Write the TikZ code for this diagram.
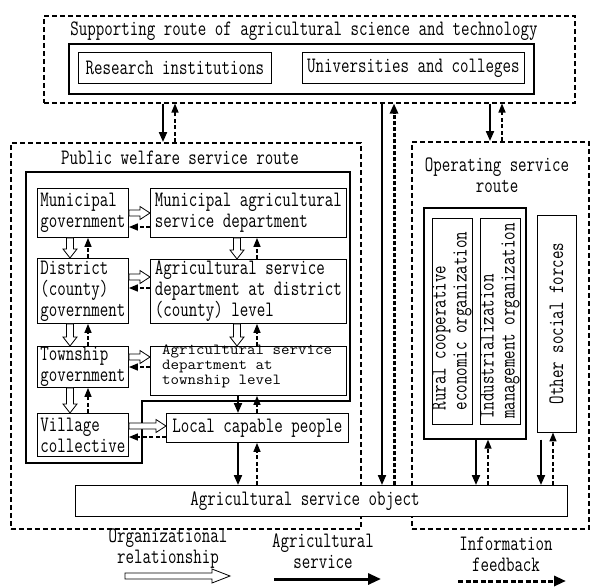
\documentclass[tikz,border=0pt]{standalone}
\usepackage{fontspec}
\setmainfont{Latin Modern Mono}[FakeStretch=0.75]
\usetikzlibrary{arrows.meta,calc}
\tikzset{
  every node/.style={font=\fontsize{22}{21}\selectfont},
  box/.style={draw, line width=0.9pt, inner sep=0pt, anchor=north west, align=left},
  dbox/.style={draw, line width=1.5pt, dash pattern=on 5pt off 3pt, anchor=north west, inner sep=0pt},
  grp/.style={draw, line width=1.8pt, anchor=north west, inner sep=0pt},
  svc/.style={line width=2pt, -{Triangle[length=10pt,width=8pt]}},
  fb/.style={line width=1.4pt, dash pattern=on 4pt off 2.5pt, -{Triangle[length=9pt,width=7pt]}},
  fbthick/.style={line width=3pt, dash pattern=on 4pt off 2pt, -{Triangle[length=10pt,width=8pt]}},
  hollow/.style={draw, fill=white, line width=0.8pt},
  lbl/.style={inner sep=0pt, align=center},
}
\newcommand\hollowR[2]{%
  \draw[hollow] let \p1=(#1), \p2=(#2) in
    (\x1,\y1+3pt) -- (\x2-10pt,\y1+3pt) -- (\x2-10pt,\y1+6.5pt) -- (\x2,\y1)
    -- (\x2-10pt,\y1-6.5pt) -- (\x2-10pt,\y1-3pt) -- (\x1,\y1-3pt) -- cycle;}
\newcommand\hollowD[2]{%
  \draw[hollow] let \p1=(#1), \p2=(#2) in
    (\x1-3.5pt,\y1) -- (\x1-3.5pt,\y2+9pt) -- (\x1-7pt,\y2+9pt) -- (\x1,\y2)
    -- (\x1+7pt,\y2+9pt) -- (\x1+3.5pt,\y2+9pt) -- (\x1+3.5pt,\y1) -- cycle;}
\begin{document}
\begin{tikzpicture}[x=1pt,y=-1pt]
\useasboundingbox (0,0) rectangle (592,587);
% ---------- supporting route ----------
\node[dbox, minimum width=531pt, minimum height=87pt] (sup) at (43,15) {};
\node[lbl] (supt) at (304,31) {Supporting route of agricultural science and technology};
\node[grp, minimum width=465pt, minimum height=50pt] (supin) at (68,43) {};
\node[box, align=center, minimum width=193pt, minimum height=31pt] (ri) at (78,52) {Research institutions};
\node[box, align=center, minimum width=222pt, minimum height=31pt] (uc) at (302,52) {Universities and colleges};
% ---------- public welfare route ----------
\node[dbox, minimum width=350pt, minimum height=386pt] (pub) at (10,142) {};
\node[lbl] (pubt) at (180,158) {Public welfare service route};
\draw[line width=1.8pt] (26,172) -- (350,172) -- (350,401) -- (142,401) -- (142,463) -- (26,463) -- cycle;
\node[box, minimum width=91pt, minimum height=49pt] (mg) at (37,188) {Municipal\\government};
\node[box, minimum width=196pt, minimum height=49pt] (md) at (150,188) {Municipal agricultural\\service department};
\node[box, minimum width=91pt, minimum height=65pt] (dg) at (37,258) {District\\(county)\\government};
\node[box, minimum width=196pt, minimum height=64pt] (dd) at (150,259) {Agricultural service\\department at district\\(county) level};
\node[box, minimum width=91pt, minimum height=41pt] (tg) at (37,346) {Township\\government};
\node[box, minimum width=196pt, minimum height=49pt] (td) at (150,346) {};
\node[lbl, align=left, anchor=north west, yscale=0.7, transform shape] (tdt) at (162,345) {Agricultural service\\department at\\township level};
\node[box, minimum width=91pt, minimum height=43pt] (vg) at (37,413) {Village\\collective};
\node[box, align=center, minimum width=182pt, minimum height=29pt] (lc) at (166,413) {Local capable people};
% ---------- operating route ----------
\node[dbox, minimum width=177pt, minimum height=387pt] (op) at (411,141) {};
\node[lbl] (opt) at (497,175) {Operating service\\route};
\node[draw, line width=1.6pt, anchor=north west, inner sep=0pt, minimum width=102pt, minimum height=231pt] (opin) at (423,207) {};
\node[box, anchor=center, rotate=90, minimum width=206pt, minimum height=40pt] (rc) at (452,321) {Rural cooperative\\economic organization};
\node[box, anchor=center, rotate=90, minimum width=206pt, minimum height=40pt] (im) at (500,321) {Industrialization\\management organization};
\node[box, anchor=center, rotate=90, align=center, minimum width=217pt, minimum height=39pt] (os) at (556.5,323.5) {Other social forces};
% ---------- service object ----------
\node[box, fill=white, minimum width=492pt, minimum height=31pt] (obj) at (75,485) {};
\node[lbl] (objt) at (305,501) {Agricultural service object};
% ---------- connectors: top ----------
\draw[svc] (sup.south -| 163,0) -- (pub.north -| 163,0);
\draw[fb] (pub.north -| 175,0) -- (sup.south -| 175,0);
\draw[svc] (sup.south -| 490,0) -- (op.north -| 490,0);
\draw[fb] (op.north -| 502,0) -- (sup.south -| 502,0);
\draw[svc] (sup.south -| 382,0) -- (obj.north -| 382,0);
\draw[fbthick] (obj.north -| 394,0) -- (sup.south -| 394,0);
% ---------- public welfare horizontal ----------
\hollowR{mg.east |- 0,213}{md.west |- 0,213}
\draw[fb] (md.west |- 0,227) -- (mg.east |- 0,227);
\hollowR{dg.east |- 0,277}{dd.west |- 0,277}
\draw[fb] (dd.west |- 0,288) -- (dg.east |- 0,288);
\hollowR{tg.east |- 0,357}{td.west |- 0,357}
\draw[fb] (td.west |- 0,367) -- (tg.east |- 0,367);
\hollowR{vg.east |- 0,426}{lc.west |- 0,426}
\draw[fb] (lc.west |- 0,437) -- (vg.east |- 0,437);
% ---------- public welfare vertical ----------
\hollowD{mg.south -| 70,0}{dg.north -| 70,0}
\draw[fb] (dg.north -| 88,0) -- (mg.south -| 88,0);
\hollowD{dg.south -| 70,0}{tg.north -| 70,0}
\draw[fb] (tg.north -| 88,0) -- (dg.south -| 88,0);
\hollowD{tg.south -| 70,0}{vg.north -| 70,0}
\draw[fb] (vg.north -| 88,0) -- (tg.south -| 88,0);
\hollowD{md.south -| 237,0}{dd.north -| 237,0}
\draw[fb] (dd.north -| 257,0) -- (md.south -| 257,0);
\hollowD{dd.south -| 237,0}{td.north -| 237,0}
\draw[fb] (td.north -| 257,0) -- (dd.south -| 257,0);
\draw[svc] (td.south -| 238,0) -- (lc.north -| 238,0);
\draw[fb] (lc.north -| 257,0) -- (td.south -| 257,0);
\draw[svc] (lc.south -| 238,0) -- (obj.north -| 238,0);
\draw[fb] (obj.north -| 257,0) -- (lc.south -| 257,0);
% ---------- operating vertical ----------
\draw[svc] (opin.south -| 476,0) -- (obj.north -| 476,0);
\draw[fb] (obj.north -| 488,0) -- (opin.south -| 488,0);
\draw[svc] (opin.south -| 541,0) -- (obj.north -| 541,0);
\draw[fb] (obj.north -| 553,0) -- (os.west -| 553,0);
% ---------- legend ----------
\node[lbl] (lg1) at (168,549) {Organizational\\relationship};
\node[lbl] (lg2) at (323,551) {Agricultural\\service};
\node[lbl] (lg3) at (506,554) {Information\\feedback};
\coordinate (a1s) at (125,576);
\coordinate (a1e) at (230,576);
\coordinate (a2s) at (274,579);
\coordinate (a2e) at (381,579);
\coordinate (a3s) at (458,581);
\coordinate (a3e) at (566,581);
\draw[hollow] let \p1=(a1s), \p2=(a1e) in
  (\x1,\y1+3pt) -- (\x2-18pt,\y1+3pt) -- (\x2-18pt,\y1+7pt) -- (\x2,\y1)
  -- (\x2-18pt,\y1-7pt) -- (\x2-18pt,\y1-3pt) -- (\x1,\y1-3pt) -- cycle;
\draw[line width=3pt, -{Triangle[length=13pt,width=11pt]}] (a2s) -- (a2e);
\draw[line width=3pt, dash pattern=on 5pt off 2.5pt, -{Triangle[length=12pt,width=10pt]}] (a3s) -- (a3e);
\end{tikzpicture}
\end{document}
